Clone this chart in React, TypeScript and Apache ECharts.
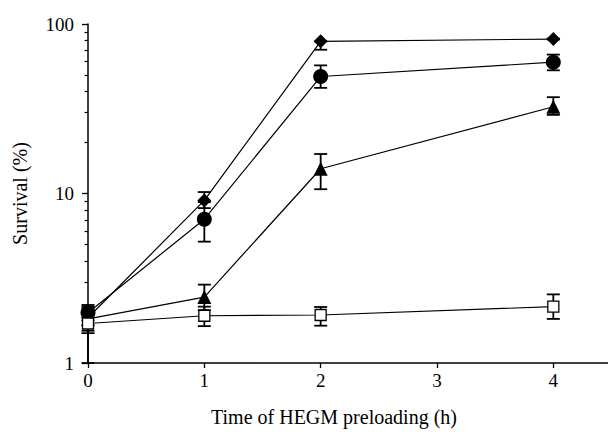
import React, { useEffect, useRef } from "react";
import * as echarts from "echarts";

const hours = [0, 1, 2, 4];
const diamondVals = [1.85, 9.1, 79, 81.5];
const circleVals = [1.98, 7.05, 49, 59.5];
const triangleVals = [1.82, 2.45, 14, 32.5];
const squareVals = [1.71, 1.9, 1.92, 2.15];

const diamondErr = [[1.55, 2.15], [8.2, 10.2], [70.5, 79], [81, 82]];
const circleErr = [[1.78, 2.2], [5.2, 8.9], [42, 57], [53.3, 66]];
const triangleErr = [[1.0, 2.1], [2.05, 2.9], [10.6, 17.1], [29.1, 37]];
const squareErr = [[1.5, 1.95], [1.65, 2.15], [1.66, 2.14], [1.82, 2.54]];

const xTicks = [0, 1, 2, 3, 4];
const yMajor = [1, 10, 100];
const yMinor = [2, 3, 4, 5, 6, 7, 8, 9, 20, 30, 40, 50, 60, 70, 80, 90];

const FONT = "Liberation Serif";

function errData(err: number[][]) {
  return hours.map((h, i) => [h, err[i][0], err[i][1]]);
}

function errSeries(name: string, err: number[][]) {
  return {
    type: "custom",
    name,
    z: 1,
    data: errData(err),
    renderItem: (params: any, api: any) => {
      const x = api.value(0);
      const lo = api.coord([x, api.value(1)]);
      const hi = api.coord([x, api.value(2)]);
      const w = 6.5;
      const style = { stroke: "#000", lineWidth: 1.8 };
      return {
        type: "group",
        children: [
          { type: "line", shape: { x1: lo[0], y1: lo[1], x2: hi[0], y2: hi[1] }, style },
          { type: "line", shape: { x1: lo[0] - w, y1: lo[1], x2: lo[0] + w, y2: lo[1] }, style },
          { type: "line", shape: { x1: hi[0] - w, y1: hi[1], x2: hi[0] + w, y2: hi[1] }, style },
        ],
      };
    },
  };
}

function lineSeries(name: string, vals: number[], symbol: string, size: number, fill: string) {
  return {
    type: "line",
    name,
    z: 3,
    data: hours.map((h, i) => [h, vals[i]]),
    symbol,
    symbolSize: size,
    showAllSymbol: true,
    lineStyle: { color: "#000", width: 1.2 },
    itemStyle: { color: fill, borderColor: "#000", borderWidth: fill === "#fff" ? 1.3 : 0 },
  };
}

export default function App() {
  const ref = useRef<HTMLDivElement>(null);
  useEffect(() => {
    const chart = echarts.init(ref.current!, null, { renderer: "svg" });
    chart.setOption({
      animation: false,
      backgroundColor: "#fff",
      grid: { left: 88, right: 0, top: 24, bottom: 66 },
      xAxis: {
        type: "value",
        min: 0,
        max: 4.47,
        interval: 1,
        name: "Time of HEGM preloading (h)",
        nameLocation: "middle",
        nameGap: 44,
        nameTextStyle: { fontFamily: FONT, fontSize: 20, color: "#000", padding: [0, 28, 0, 0] },
        axisLine: { lineStyle: { color: "#000", width: 1.5 } },
        axisTick: { show: true, length: 5, inside: false, lineStyle: { color: "#000", width: 1.3 }, customValues: xTicks },
        axisLabel: { fontFamily: FONT, fontSize: 19, color: "#000", margin: 8, customValues: xTicks },
        splitLine: { show: false },
      },
      yAxis: [
        {
          type: "log",
          min: 1,
          max: 100,
          logBase: 10,
          name: "Survival (%)",
          nameLocation: "middle",
          nameGap: 58,
          nameTextStyle: { fontFamily: FONT, fontSize: 20, color: "#000" },
          axisLine: { show: true, lineStyle: { color: "#000", width: 1.5 } },
          axisTick: { show: true, length: 6, lineStyle: { color: "#000", width: 1.3 }, customValues: yMajor },
          axisLabel: { fontFamily: FONT, fontSize: 19, color: "#000", margin: 14, customValues: yMajor },
          splitLine: { show: false },
        },
        {
          type: "log",
          min: 1,
          max: 100,
          logBase: 10,
          position: "left",
          axisLine: { show: false },
          axisTick: { show: true, length: 3.5, lineStyle: { color: "#000", width: 1.2 }, customValues: yMinor },
          axisLabel: { show: false },
          splitLine: { show: false },
        },
      ],
      series: [
        errSeries("diamondErr", diamondErr),
        errSeries("circleErr", circleErr),
        errSeries("triangleErr", triangleErr),
        errSeries("squareErr", squareErr),
        lineSeries("diamond", diamondVals, "diamond", 14, "#000"),
        lineSeries("circle", circleVals, "circle", 15, "#000"),
        lineSeries("triangle", triangleVals, "triangle", 14, "#000"),
        lineSeries("square", squareVals, "rect", 11, "#fff"),
      ],
    });
    return () => chart.dispose();
  }, []);
  return <div ref={ref} style={{ width: 608, height: 432, position: "absolute", left: 0, top: 0 }} />;
}
